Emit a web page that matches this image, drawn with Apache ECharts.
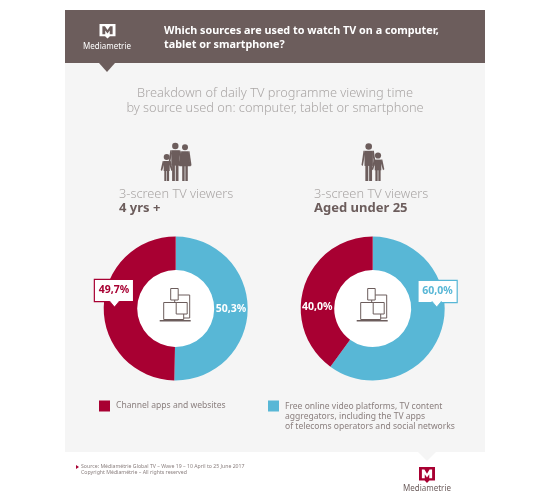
<!DOCTYPE html>
<html><head><meta charset="utf-8">
<style>html,body{margin:0;padding:0;background:#fff}#c{width:550px;height:503px}</style>
<script src="https://cdn.jsdelivr.net/npm/echarts@6/dist/echarts.min.js"></script>
</head><body><div id="c"></div>
<script>
const categories = ['Channel apps and websites',
  'Free online video platforms, TV content\naggregators, including the TV apps\nof telecoms operators and social networks'];
const allViewers = [49.7, 50.3];
const under25 = [40.0, 60.0];
const title = ['Which sources are used to watch TV on a computer,', 'tablet or smartphone?'];
const subtitle = 'Breakdown of daily TV programme viewing time\nby source used on: computer, tablet or smartphone';
const groupLabel = '3-screen TV viewers';
const groups = ['4 yrs +', 'Aged under 25'];
const source = 'Source: Médiamétrie Global TV – Wave 19 – 10 April to 25 June 2017\nCopyright Médiamétrie – All rights reserved';

const RED = '#a80032', BLUE = '#58b7d6', BROWN = '#6c5d5c', GREY = '#aaa6a5';
const FONT = '"Noto Sans", "Open Sans", sans-serif';
const fmt = v => v.toFixed(1).replace('.', ',') + '%';

function txt(x, y, text, size, fill, weight, align) {
  return {type:'text', z:50, x, y, style:{text, fontSize:size, fill, fontWeight:weight||'normal',
    fontFamily:FONT, align:align||'left', verticalAlign:'middle', lineHeight:Math.round(size*1.17)}};
}
function poly(points, fill, z) { return {type:'polygon', z:z||50, shape:{points}, style:{fill}}; }
function rect(x, y, width, height, fill, stroke) {
  return {type:'rect', z:50, shape:{x,y,width,height}, style:{fill, stroke:stroke||null, lineWidth:stroke?1:0}};
}
function person(cx, headY, r, bottom, w, skirt) {
  const top = headY + r + 1, c = BROWN, hip = top + (bottom - top) * 0.5;
  const out = [
    {type:'circle', z:50, shape:{cx, cy:headY, r}, style:{fill:c}},
    poly([[cx-w,top],[cx+w,top],[cx+w+(skirt?2:0),hip],[cx-w-(skirt?2:0),hip]], c),
    rect(cx-w*0.8, hip-1, w*0.7, bottom-hip+1, c),
    rect(cx+w*0.1, hip-1, w*0.7, bottom-hip+1, c),
    poly([[cx-w,top],[cx-w-1,top],[cx-w-3,hip-1],[cx-w-1.7,hip],[cx-w+0.6,top+3]], c),
    poly([[cx+w,top],[cx+w+1,top],[cx+w+3,hip-1],[cx+w+1.7,hip],[cx+w-0.6,top+3]], c)
  ];
  return out;
}
function devices(cx, cy) {
  return [
    rect(cx-1, cy-13.5, 15, 23, 'none', BROWN),
    rect(cx-5, cy-20, 7.5, 11.5, '#fff', BROWN),
    rect(cx-12, cy-6, 20, 17, '#fff', BROWN),
    rect(cx+0.5, cy-6, 11, 11.5, '#fff', BROWN),
    rect(cx-16, cy+11.5, 31, 1.5, BROWN)
  ];
}
function logo(x, y, w, h, fill, inner) {
  const p = (a,b) => [x+a*w, y+b*h];
  return [
    poly([p(0,0),p(1,0),p(1,0.85),p(0.65,0.85),p(0.5,1),p(0.35,0.85),p(0,0.85)], fill),
    poly([p(0.18,0.16),p(0.34,0.16),p(0.5,0.42),p(0.66,0.16),p(0.82,0.16),p(0.82,0.7),p(0.64,0.7),p(0.64,0.45),p(0.5,0.66),p(0.36,0.45),p(0.36,0.7),p(0.18,0.7)], inner)
  ];
}
function callout(tipX, tipY, stroke) {
  return {type:'polyline', z:60, shape:{points:[[tipX-5,tipY-6],[tipX,tipY],[tipX+5,tipY-6]]},
    style:{fill:'#fff', stroke, lineWidth:0.8}};
}

const CY = 308.5, CX1 = 175.7, CX2 = 372.7;
const graphics = [
  {type:'rect', z:0, shape:{x:65,y:63,width:420,height:389}, style:{fill:'#f5f5f5'}},
  {type:'rect', z:0, shape:{x:65,y:10,width:420,height:53}, style:{fill:BROWN}},
  poly([[99,63],[115,63],[107,72]], BROWN, 1),
  poly([[418,452],[436,452],[427,461]], '#f5f5f5', 1),
  {type:'circle', z:0, shape:{cx:CX1,cy:CY,r:40}, style:{fill:'#fff'}},
  {type:'circle', z:0, shape:{cx:CX2,cy:CY,r:40}, style:{fill:'#fff'}},
  ...logo(99.5, 24, 16, 14.5, '#fff', BROWN),
  txt(107, 46.5, 'Mediametrie', 8, '#fff', 'normal', 'center'),
  txt(164, 31, title[0], 10.8, '#fff', 'bold'),
  txt(164, 45, title[1], 10.8, '#fff', 'bold'),
  txt(275, 101, subtitle, 12.8, GREY, '300', 'center'),
  txt(119, 194, groupLabel, 12.8, GREY, '300'),
  txt(119, 208.5, groups[0], 13, BROWN, 'bold'),
  txt(314, 194, groupLabel, 12.8, GREY, '300'),
  txt(314, 208.5, groups[1], 13, BROWN, 'bold'),
  ...person(175.3, 146, 3.2, 181, 4),
  ...person(185, 147.3, 3, 181, 3.5, true),
  ...person(166.7, 157, 3, 181, 3),
  ...person(368.7, 146.5, 3.3, 181, 4.2),
  ...person(378, 155.5, 3.1, 181, 3.3),
  ...devices(CX1, CY),
  ...devices(CX2, CY),
  callout(114.5, 307, RED),
  callout(436.7, 307, BLUE),
  poly([[76,465],[79,467],[76,469]], RED),
  txt(81, 470, source, 5.2, '#8a7f7e'),
  ...logo(419, 467, 16, 16, RED, '#fff'),
  txt(427, 489, 'Mediametrie', 8, BROWN, 'normal', 'center')
];

function labelFor(color, offset, boxed) {
  return boxed ? {
    show:true, position:'inside', offset, formatter:p=>fmt(p.value), color, fontFamily:FONT,
    fontWeight:'bold', fontSize:10.5, backgroundColor:'#fff', borderColor:color, borderWidth:1.2,
    width:38, height:21, align:'center', verticalAlign:'middle', lineHeight:21
  } : {
    show:true, position:'inside', offset, formatter:p=>fmt(p.value), color:'#fff', fontFamily:FONT,
    fontWeight:'bold', fontSize:10.5
  };
}
function donut(cx, vals, redLabel, blueLabel) {
  return {
    type:'pie', silent:true, animation:false, center:[cx, CY], radius:[38.5, 72], startAngle:90,
    clockwise:true, labelLine:{show:false}, z:2,
    data:[
      {name:categories[1], value:vals[1], itemStyle:{color:BLUE}, label:blueLabel},
      {name:categories[0], value:vals[0], itemStyle:{color:RED}, label:redLabel}
    ]
  };
}
const swatchTall = 'path://M0 0H11V11H0ZM0 32H11V32H0Z';
const legendText = {fontFamily:FONT, fontSize:8.55, color:'#8a7f7e', lineHeight:10.4, padding:[0,0,0,1]};

const chart = echarts.init(document.getElementById('c'), null, {renderer:'canvas'});
chart.setOption({
  animation:false,
  backgroundColor:'#fff',
  graphic:graphics,
  legend:[
    {left:99, top:400.5, data:[categories[0]], icon:'rect', itemWidth:11, itemHeight:11, itemGap:0, padding:0,
     selectedMode:false, textStyle:legendText},
    {left:268, top:400.5, data:[categories[1]], icon:swatchTall, itemWidth:11, itemHeight:32, itemGap:0, padding:0,
     selectedMode:false, textStyle:legendText}
  ],
  series:[
    donut(CX1, allViewers, labelFor(RED, [-3.5,-17.5], true), labelFor('#fff', [-3,0], false)),
    donut(CX2, under25, labelFor('#fff', [0,17], false), labelFor(BLUE, [9.5,-35], true))
  ]
});
</script></body></html>
